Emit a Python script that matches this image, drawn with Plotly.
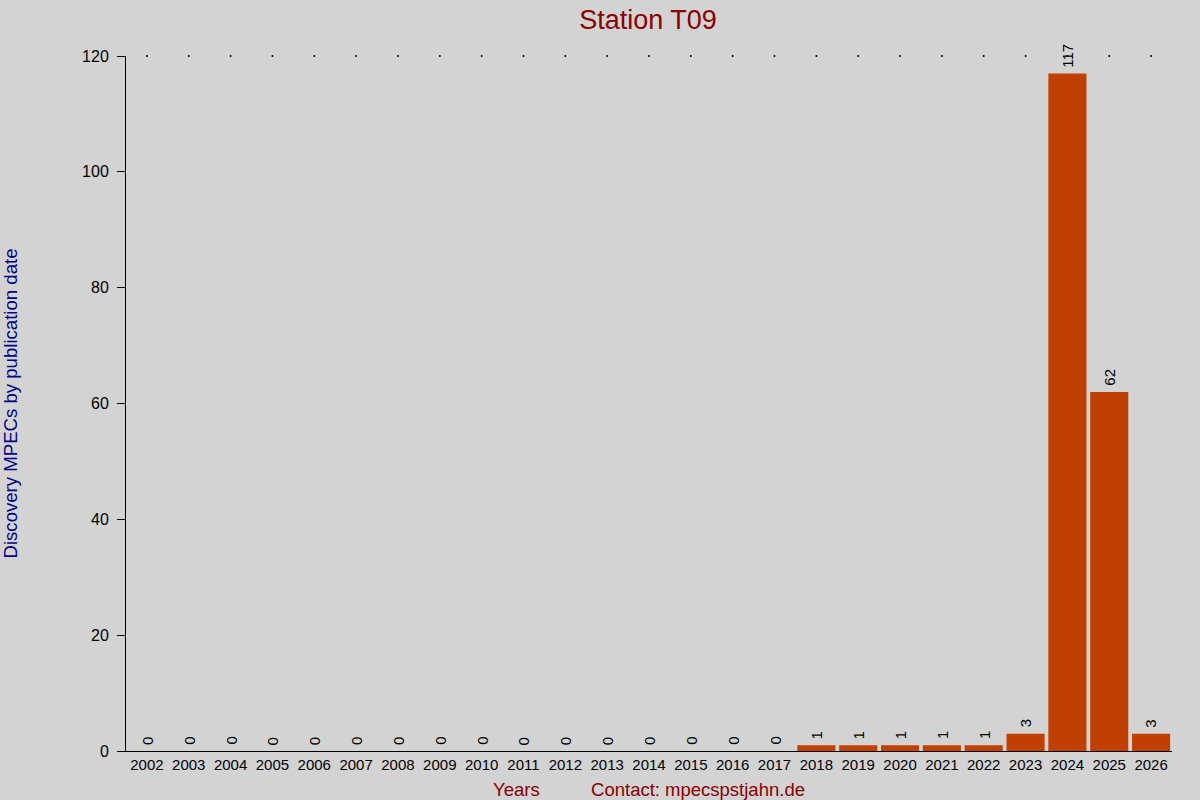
import plotly.graph_objs as go

# data
years = [str(y) for y in range(2002, 2027)]
mpecs = [0, 0, 0, 0, 0, 0, 0, 0, 0, 0, 0, 0, 0, 0, 0, 0,
         1, 1, 1, 1, 1, 3, 117, 62, 3]
y_max = 120

fig = go.Figure()

# bars
fig.add_trace(go.Bar(
    x=years, y=mpecs,
    marker=dict(color="#C04000", line=dict(width=0)),
    hoverinfo="x+y",
))

# dotted line at the top of the axis
fig.add_trace(go.Scatter(
    x=years, y=[y_max] * len(years),
    mode="markers",
    marker=dict(size=2, color="black"),
    hoverinfo="skip",
    cliponaxis=False,
))

# value labels above each bar, rotated
for i, v in enumerate(mpecs):
    fig.add_annotation(
        x=i, y=v, xref="x", yref="y", text=str(v), showarrow=False,
        textangle=-90, xanchor="center", yanchor="bottom", yshift=4,
        font=dict(family="Liberation Sans, Arial", size=15, color="black"),
    )

fig.update_layout(
    width=1200, height=800,
    paper_bgcolor="#D3D3D3",
    plot_bgcolor="#D3D3D3",
    showlegend=False,
    bargap=0.09,
    margin=dict(l=126, r=28, t=56, b=49, autoexpand=False),
    font=dict(family="Liberation Sans, Arial", size=15, color="black"),
    title=dict(text="Station T09", x=0.54, xanchor="center", y=0.988, yanchor="top",
               font=dict(size=27, color="#8B0000")),
)

fig.update_xaxes(
    type="category",
    range=[-0.5, len(years) - 0.5],
    showline=True, linecolor="black", linewidth=1,
    ticks="", showgrid=False, automargin=False,
    tickfont=dict(size=15),
    title=dict(text="Years" + "&nbsp;" * 10 + "Contact: mpecspstjahn.de",
               font=dict(size=18.5, color="#8B0000"), standoff=14),
)

fig.update_yaxes(
    range=[0, y_max],
    showline=True, linecolor="black", linewidth=1,
    ticks="outside", ticklen=8, tickcolor="black",
    dtick=20, showgrid=False, zeroline=False, automargin=False,
    tickfont=dict(size=16), ticklabelstandoff=5,
    title=dict(text="Discovery MPECs by publication date",
               font=dict(size=18.6, color="#00008B"), standoff=62),
)

fig.write_html("out.html", config={"displayModeBar": False},
               post_script="document.body.style.margin='0';")
